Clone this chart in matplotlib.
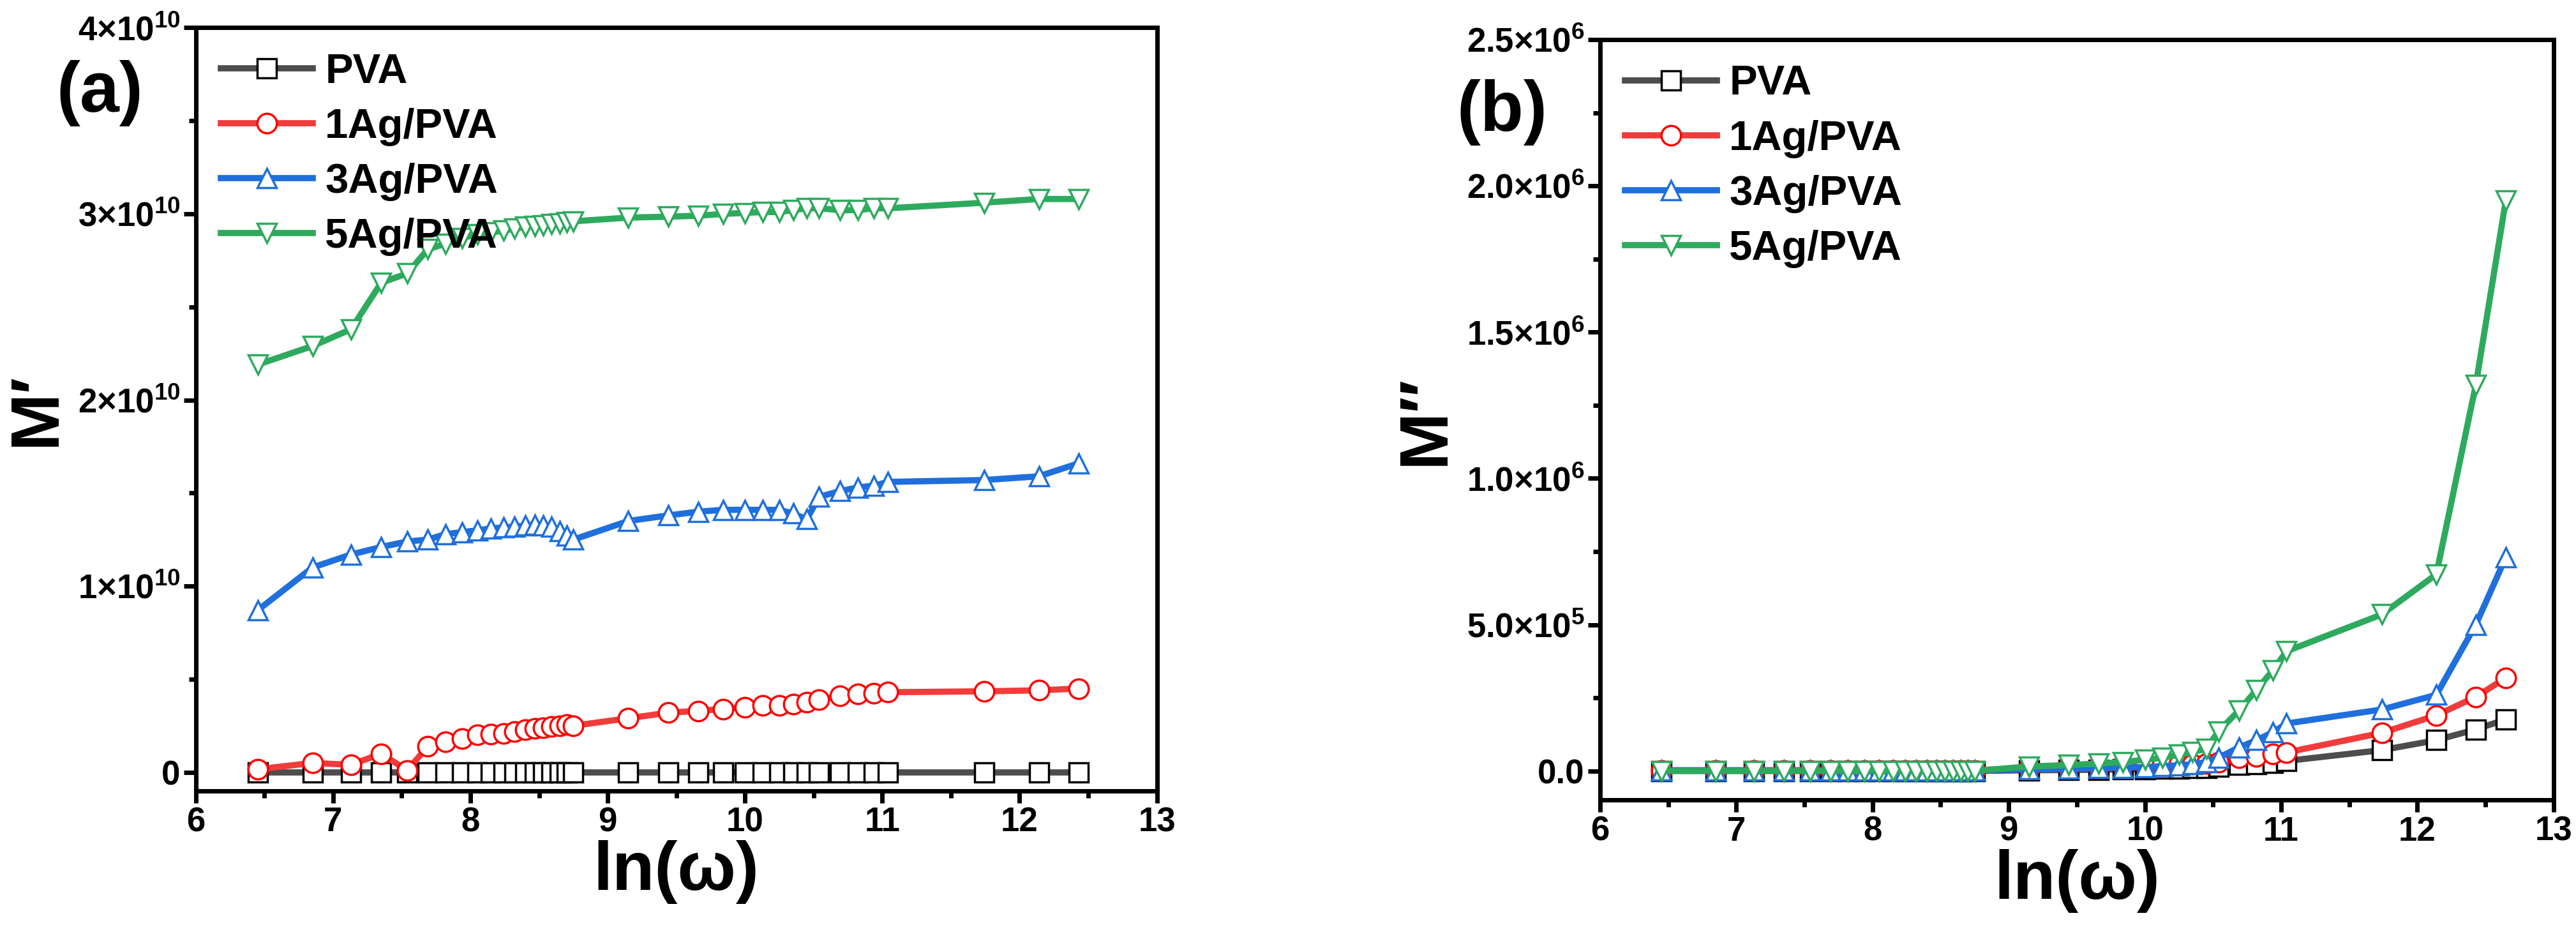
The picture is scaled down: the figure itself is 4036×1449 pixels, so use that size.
import matplotlib
matplotlib.use("Agg")
import matplotlib.pyplot as plt
import numpy as np
from matplotlib.ticker import FuncFormatter, MultipleLocator

plt.rcParams['font.family'] = ['Liberation Sans', 'DejaVu Sans']
plt.rcParams['font.weight'] = 'bold'
plt.rcParams['mathtext.fontset'] = 'custom'
plt.rcParams['mathtext.rm'] = 'Liberation Sans:bold'
plt.rcParams['mathtext.it'] = 'Liberation Sans:bold'
plt.rcParams['mathtext.bf'] = 'Liberation Sans:bold'

x_a = [6.45, 6.85, 7.13, 7.35, 7.54, 7.69, 7.82, 7.94, 8.05, 8.15, 8.24, 8.32, 8.40, 8.47, 8.53, 8.59, 8.65, 8.70, 8.75,
       9.15, 9.44, 9.66, 9.84, 10.0, 10.13, 10.25, 10.35, 10.45, 10.54, 10.69, 10.82, 10.94, 11.04, 11.74, 12.14, 12.43]
x_b = x_a + [12.65]

# Panel (a): M' in units of 1e10
pva_a = [0.0] * 36
ag1_a = [0.016, 0.05, 0.04, 0.10, 0.01, 0.14, 0.165, 0.18, 0.20, 0.205, 0.21, 0.22, 0.23, 0.235, 0.24, 0.245, 0.25, 0.255, 0.25,
         0.29, 0.32, 0.33, 0.34, 0.35, 0.36, 0.36, 0.365, 0.375, 0.39, 0.41, 0.42, 0.425, 0.43, 0.435, 0.44, 0.45]
ag3_a = [0.87, 1.10, 1.17, 1.21, 1.24, 1.25, 1.28, 1.29, 1.30, 1.31, 1.315, 1.32, 1.325, 1.33, 1.325, 1.32, 1.295, 1.27, 1.25,
         1.35, 1.38, 1.40, 1.41, 1.41, 1.41, 1.41, 1.39, 1.36, 1.48, 1.51, 1.53, 1.54, 1.56, 1.57, 1.59, 1.66]
ag5_a = [2.19, 2.29, 2.38, 2.63, 2.68, 2.81, 2.84, 2.87, 2.89, 2.90, 2.91, 2.92, 2.93, 2.935, 2.94, 2.945, 2.95, 2.955, 2.96,
         2.98, 2.985, 2.99, 3.00, 3.005, 3.01, 3.01, 3.02, 3.03, 3.03, 3.02, 3.02, 3.03, 3.03, 3.06, 3.08, 3.08]

# Panel (b): M'' in units of 1e5
pva_b = [0.0] * 19 + [0.02, 0.03, 0.04, 0.05, 0.06, 0.07, 0.08, 0.09, 0.11, 0.14, 0.20, 0.24, 0.28, 0.34, 0.71, 1.05, 1.42, 1.76]
ag1_b = [0.02] * 19 + [0.10, 0.12, 0.15, 0.18, 0.20, 0.22, 0.23, 0.24, 0.25, 0.30, 0.45, 0.50, 0.58, 0.63, 1.30, 1.90, 2.53, 3.18]
ag3_b = [0.02] * 19 + [0.05, 0.07, 0.09, 0.11, 0.13, 0.16, 0.19, 0.23, 0.30, 0.45, 0.80, 1.05, 1.32, 1.62, 2.10, 2.60, 5.00, 7.30]
ag5_b = [0.0] * 19 + [0.15, 0.20, 0.25, 0.30, 0.38, 0.45, 0.55, 0.65, 0.75, 1.35, 2.06, 2.77, 3.44, 4.09, 5.35, 6.72, 13.2, 19.5]

labels = ['PVA', '1Ag/PVA', '3Ag/PVA', '5Ag/PVA']
colors = ['#4d4d4d', '#f03c3c', '#1f6fdc', '#2eaa5e']
mcolors = ['black', 'red', '#1f6fdc', '#2eaa5e']
markers = ['s', 'o', '^', 'v']

fig = plt.figure(figsize=(40.37, 14.49), dpi=100)
axa = fig.add_axes([0.076, 0.145, 0.373, 0.825])
axb = fig.add_axes([0.621, 0.135, 0.370, 0.822])

def sci(v, p, exp, dec):
    if abs(v) < 1e-9:
        return '0' if dec == 0 else '0.0'
    m = v / 10**exp
    s = f'{m:.{dec}f}'
    return s + '×10$^{' + str(exp) + '}$'

for ax, xs, data, scale in [(axa, x_a, [pva_a, ag1_a, ag3_a, ag5_a], 1e10),
                            (axb, x_b, [pva_b, ag1_b, ag3_b, ag5_b], 1e5)]:
    for d, lab, c, mc, mk in zip(data, labels, colors, mcolors, markers):
        ax.plot(xs, np.array(d) * scale, color=c, lw=7, marker=mk, ms=22,
                mfc='white', mec=mc, mew=2.5, label=lab)
    ax.set_xlim(6, 13)
    ax.xaxis.set_major_locator(MultipleLocator(1))
    ax.xaxis.set_minor_locator(MultipleLocator(0.5))
    for s in ax.spines.values():
        s.set_linewidth(5)
    ax.tick_params(which='major', length=14, width=5, labelsize=38, direction='out')
    ax.tick_params(which='minor', length=8, width=5, direction='out')
    ax.set_xlabel('ln(ω)', fontsize=78, fontweight='bold', labelpad=2)
    leg = ax.legend(loc='upper left', fontsize=47, frameon=False, handlelength=2.2,
                    borderaxespad=0.2, labelspacing=0.4, handletextpad=0.3,
                    bbox_to_anchor=(0.0, 1.0))

axa.set_ylim(-1.0e9, 4e10)
axa.yaxis.set_major_locator(MultipleLocator(1e10))
axa.yaxis.set_minor_locator(MultipleLocator(5e9))
axa.yaxis.set_major_formatter(FuncFormatter(lambda v, p: sci(v, p, 10, 0)))
axa.set_ylabel('M′', fontsize=78, fontweight='bold', labelpad=10)
axa.text(-0.145, 0.89, '(a)', transform=axa.transAxes, fontsize=80, fontweight='bold')

axb.set_ylim(-1.0e5, 2.5e6)
axb.yaxis.set_major_locator(MultipleLocator(5e5))
axb.yaxis.set_minor_locator(MultipleLocator(2.5e5))
def fb(v, p):
    if abs(v) < 1e-9:
        return '0.0'
    e = int(np.floor(np.log10(abs(v))))
    return f'{v/10**e:.1f}' + '×10$^{' + str(e) + '}$'
axb.yaxis.set_major_formatter(FuncFormatter(fb))
axb.set_ylabel('M″', fontsize=78, fontweight='bold', labelpad=10)
axb.text(-0.15, 0.88, '(b)', transform=axb.transAxes, fontsize=80, fontweight='bold')

fig.savefig('out.png', dpi=100)
